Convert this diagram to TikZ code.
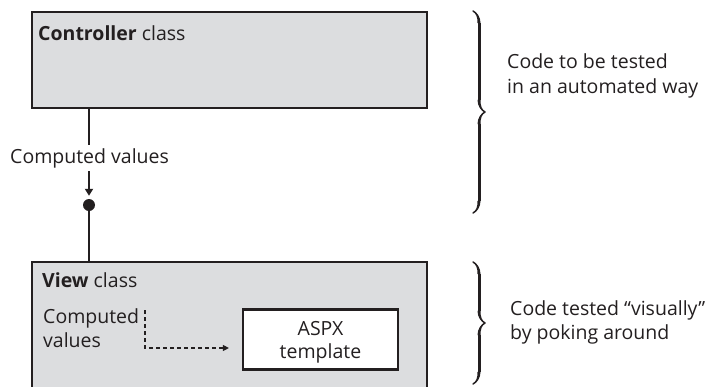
\documentclass[tikz,border=0pt]{standalone}
\usepackage{fontspec}
\setmainfont{Open Sans}
\usetikzlibrary{arrows.meta,decorations.pathreplacing,calligraphy}
\definecolor{boxgray}{HTML}{DCDDDF}
\definecolor{ink}{HTML}{231F20}
\begin{document}
\begin{tikzpicture}[x=1pt,y=-1pt,
  classbox/.style={draw=ink,line width=2.2pt,fill=boxgray},
  conn/.style={draw=ink,line width=2.2pt},
  lbl/.style={font=\fontsize{19.5}{24.5}\selectfont,text=ink,inner sep=0pt},
  bracestyle/.style={draw=ink,decorate,decoration={calligraphic brace,amplitude=12pt},line width=1pt,pen colour={ink},thick}]
\useasboundingbox (0,0) rectangle (712,386);
\begin{scope}
\clip (0,0) rectangle (712,386);
% controller box
\path[classbox] (32,12) rectangle (427,108);
\coordinate (ctrlb) at (89,108);
\node[lbl,anchor=base west] (ctrl) at (38,40) {\textbf{Controller} class};
% view box
\path[classbox] (32,262) rectangle (427,400);
\coordinate (viewt) at (89,262);
\node[lbl,anchor=base west] (view) at (42,287) {\textbf{View} class};
% connector
\node[circle,fill=ink,inner sep=0pt,minimum size=12pt] (dot) at (89,205) {};
\draw[conn,-{Triangle[length=7pt,width=8pt]},shorten >=3pt] (ctrlb) -- (dot.north);
\draw[conn] (dot) -- (viewt);
\node[lbl,fill=white,inner xsep=0pt,inner ysep=3pt,anchor=base west] (cv) at (10,163) {Computed values};
% aspx
\node[draw=ink,line width=2.2pt,fill=white,minimum width=155pt,minimum height=60pt] (aspx) at (320.5,339.5) {};
\node[lbl,anchor=base] (aspx1) at (aspx.center |- 0,335) {ASPX};
\node[lbl,anchor=base] (aspx2) at (aspx.center |- 0,358) {template};
\node[lbl,anchor=base west] (cv2a) at (43,323) {Computed};
\node[lbl,anchor=base west] (cv2b) at (43,347) {values};
\coordinate (dtop) at (145,310);
\draw[ink,line width=1.1pt,dash pattern=on 4pt off 3pt,-{Triangle[length=6pt,width=6pt]}]
  (dtop) |- ([xshift=-13pt]aspx.west |- 0,348);
\end{scope}
% braces
\draw[bracestyle,line width=3pt] (473,11) -- (473,213);
\draw[bracestyle,line width=3pt] (473,262) -- (473,384);
\node[lbl,anchor=base west] (t1) at (507,68) {Code to be tested};
\node[lbl,anchor=base west] (t1b) at (507,93) {in an automated way};
\node[lbl,anchor=base west] (t2) at (510,315) {Code tested “visually”};
\node[lbl,anchor=base west] (t2b) at (510,339) {by poking around};
\end{tikzpicture}
\end{document}
